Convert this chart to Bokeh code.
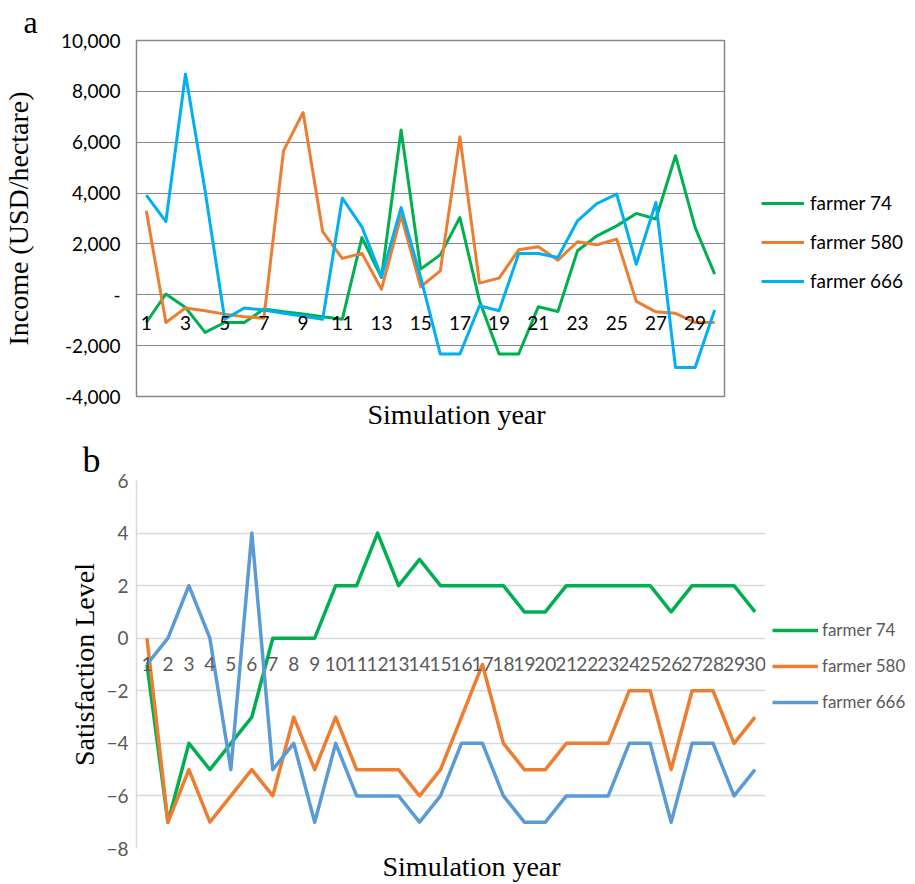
import math
from bokeh.plotting import figure
from bokeh.models import Range1d, FixedTicker, Legend, LegendItem, Title, ColumnDataSource
from bokeh.layouts import column
from bokeh.core.properties import value
from bokeh.embed import file_html
from bokeh.resources import INLINE

# ---------------- data ----------------
years = list(range(1, 31))

# panel a: income (USD/hectare)
income_74 = [-1090, 30, -500, -1480, -1090, -1090, -560, -670, -760, -865,
             -960, 2250, 680, 6480, 1010, 1570, 3040, -240, -2330, -2330,
             -470, -655, 1730, 2320, 2710, 3200, 2980, 5470, 2650, 810]
income_580 = [3300, -1090, -520, -630, -760, -865, -920, 5660, 7170, 2480,
              1430, 1630, 220, 3110, 315, 940, 6210, 460, 655, 1770,
              1890, 1360, 2085, 1970, 2190, -260, -670, -730, -1090, -1090]
income_666 = [3920, 2880, 8680, 4090, -960, -520, -600, -730, -840, -960,
              3800, 2670, 710, 3430, 680, -2330, -2330, -430, -630, 1625,
              1625, 1470, 2910, 3590, 3960, 1200, 3630, -2860, -2860, -600]
income_ticks = [-4000, -2000, 0, 2000, 4000, 6000, 8000, 10000]
income_tick_labels = ["-4,000", "-2,000", "-", "2,000", "4,000", "6,000", "8,000", "10,000"]
income_cat_years = [1, 3, 5, 7, 9, 11, 13, 15, 17, 19, 21, 23, 25, 27, 29]
income_cat_labels = ["1", "3", "5", "7", "9", "11", "13", "15", "17", "19", "21", "23", "25", "27", "29"]

# panel b: satisfaction level
sat_74 = [-1, -7, -4, -5, -4, -3, 0, 0, 0, 2, 2, 4, 2, 3, 2,
          2, 2, 2, 1, 1, 2, 2, 2, 2, 2, 1, 2, 2, 2, 1]
sat_580 = [0, -7, -5, -7, -6, -5, -6, -3, -5, -3, -5, -5, -5, -6, -5,
           -3, -1, -4, -5, -5, -4, -4, -4, -2, -2, -5, -2, -2, -4, -3]
sat_666 = [-1, 0, 2, 0, -5, 4, -5, -4, -7, -4, -6, -6, -6, -7, -6,
           -4, -4, -6, -7, -7, -6, -6, -6, -4, -4, -7, -4, -4, -6, -5]
sat_ticks = [-8, -6, -4, -2, 0, 2, 4, 6]
sat_cat_labels = [str(y) for y in years]

series_names = ["farmer 74", "farmer 580", "farmer 666"]
colors_a = ["#00B050", "#ED7D31", "#00B0F0"]
colors_b = ["#00B050", "#ED7D31", "#5B9BD5"]

W = 912
SERIF = "Liberation Serif"
SANS = "Lato"

# ---------------- panel a ----------------
# frame: x 135..723, y 40..396 (figure is 912 x 438)
pa = figure(frame_width=588, frame_height=356, output_backend="svg", toolbar_location=None,
            x_range=Range1d(0.5, 30.5), y_range=Range1d(-4000, 10000),
            min_border_left=135, min_border_right=W - 723,
            min_border_top=40, min_border_bottom=42)
pa.xaxis.visible = False
pa.xgrid.grid_line_color = None
pa.ygrid.grid_line_color = "#878787"
pa.ygrid.ticker = FixedTicker(ticks=income_ticks)
pa.outline_line_color = "#878787"
pa.outline_line_width = 1.5
ya = pa.yaxis[0]
ya.ticker = FixedTicker(ticks=income_ticks)
ya.major_label_overrides = {t: l for t, l in zip(income_ticks, income_tick_labels)}
ya.major_tick_line_color = None
ya.minor_tick_line_color = None
ya.major_tick_out = 0
ya.axis_line_color = "#878787"
ya.major_label_standoff = 16
ya.major_label_text_font = SANS
ya.major_label_text_font_size = "19px"
ya.major_label_text_color = "#000000"
ya.axis_label = "Income (USD/hectare)"
ya.axis_label_text_font = SERIF
ya.axis_label_text_font_size = "28px"
ya.axis_label_text_font_style = "normal"
ya.axis_label_text_color = "#000000"
ya.axis_label_standoff = 24

ra = []
for vals, c in zip([income_74, income_580, income_666], colors_a):
    ra.append(pa.line(years, vals, line_color=c, line_width=3, line_join="round"))

src_a = ColumnDataSource(dict(x=income_cat_years, y=[0] * len(income_cat_years), t=income_cat_labels))
pa.text(x="x", y="y", text="t", source=src_a, text_align="center", text_baseline="middle",
        y_offset=28, text_font=value(SANS), text_font_size="19px", text_color="#000000")

leg_a = Legend(items=[LegendItem(label=n, renderers=[r]) for n, r in zip(series_names, ra)],
               location=(37, 104), glyph_width=43, glyph_height=20, label_height=20,
               label_standoff=6, spacing=16, padding=0, margin=0,
               border_line_color=None, background_fill_alpha=0,
               label_text_font=SANS, label_text_font_size="19px", label_text_color="#000000")
pa.add_layout(leg_a, "right")

pa.add_layout(Title(text="a", align="left", offset=22 - 135, standoff=0, vertical_align="middle",
                    text_font=SERIF, text_font_size="32px", text_font_style="normal",
                    text_color="#000000"), "above")
pa.add_layout(Title(text="Simulation year", align="left", offset=366 - 135, standoff=0,
                    vertical_align="bottom",
                    text_font=SERIF, text_font_size="28px", text_font_style="normal",
                    text_color="#000000"), "below")

# ---------------- panel b ----------------
# frame: x 136..765, y 479..847 (figure is 912 x 445, starting at y=438)
TOPB = 438
pb = figure(frame_width=629, frame_height=368, output_backend="svg", toolbar_location=None,
            x_range=Range1d(0.5, 30.5), y_range=Range1d(-8, 6),
            min_border_left=136, min_border_right=W - 765,
            min_border_top=479 - TOPB, min_border_bottom=36)
pb.xaxis.visible = False
pb.xgrid.grid_line_color = None
pb.ygrid.grid_line_color = "#D9D9D9"
pb.ygrid.grid_line_width = 1.5
pb.ygrid.ticker = FixedTicker(ticks=sat_ticks)
pb.outline_line_color = None
yb = pb.yaxis[0]
yb.ticker = FixedTicker(ticks=sat_ticks)
yb.major_tick_line_color = None
yb.minor_tick_line_color = None
yb.major_tick_out = 0
yb.axis_line_color = "#D9D9D9"
yb.axis_line_width = 1.5
yb.major_label_standoff = 8
yb.major_label_text_font = SANS
yb.major_label_text_font_size = "19px"
yb.major_label_text_color = "#595959"
yb.axis_label = "Satisfaction Level"
yb.axis_label_text_font = SERIF
yb.axis_label_text_font_size = "28px"
yb.axis_label_text_font_style = "normal"
yb.axis_label_text_color = "#000000"
yb.axis_label_standoff = 3

rb = []
for vals, c in zip([sat_74, sat_580, sat_666], colors_b):
    rb.append(pb.line(years, vals, line_color=c, line_width=3.5, line_join="round"))

src_b = ColumnDataSource(dict(x=years, y=[0] * len(years), t=sat_cat_labels))
pb.text(x="x", y="y", text="t", source=src_b, text_align="center", text_baseline="middle",
        y_offset=26, text_font=value(SANS), text_font_size="19px", text_color="#595959")

leg_b = Legend(items=[LegendItem(label=n, renderers=[r]) for n, r in zip(series_names, rb)],
               location=(7, 136), glyph_width=46, glyph_height=20, label_height=20,
               label_standoff=4, spacing=15, padding=0, margin=0,
               border_line_color=None, background_fill_alpha=0,
               label_text_font=SANS, label_text_font_size="17px", label_text_color="#595959")
pb.add_layout(leg_b, "right")

pb.add_layout(Title(text="b", align="left", offset=82 - 136, standoff=0, vertical_align="middle",
                    text_font=SERIF, text_font_size="36px", text_font_style="normal",
                    text_color="#000000"), "above")
pb.add_layout(Title(text="Simulation year", align="left", offset=382 - 136, standoff=0,
                    vertical_align="bottom",
                    text_font=SERIF, text_font_size="28px", text_font_style="normal",
                    text_color="#000000"), "below")

layout = column(pa, pb, spacing=0)
open("out.html", "w").write(file_html(layout, INLINE))
